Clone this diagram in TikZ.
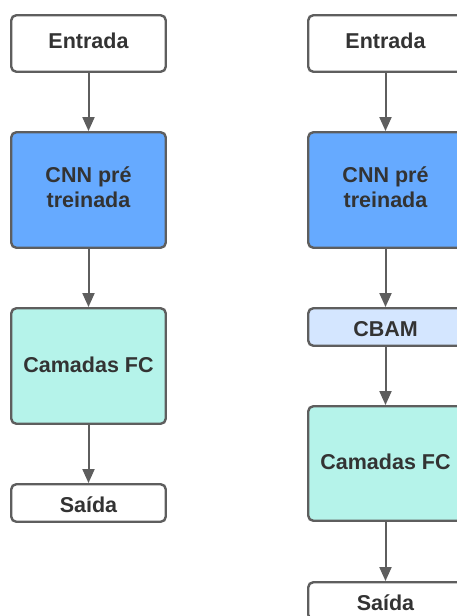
\documentclass[tikz,border=0pt]{standalone}
\usepackage{fontspec}
\setmainfont{Liberation Sans}
\usetikzlibrary{arrows.meta}
\definecolor{edgegray}{HTML}{5E5E5E}
\definecolor{txt}{HTML}{333333}
\definecolor{cnnblue}{HTML}{66AAFF}
\definecolor{fcgreen}{HTML}{B5F3EA}
\definecolor{cbamblue}{HTML}{D4E6FF}
\tikzset{
  box/.style={draw=edgegray, line width=2.4pt, rounded corners=5pt, minimum width=154.5pt,
    inner sep=0pt, align=center, text=txt, text depth=6pt, font=\fontsize{21.5}{25.5}\selectfont\bfseries},
  shortbox/.style={box, minimum height=37.5pt, text height=19.5pt, text depth=0pt},
  fcbox/.style={box, fill=fcgreen, text height=15.5pt, text depth=3pt},
  flow/.style={draw=edgegray, line width=2pt, -{Triangle[length=14pt,width=12pt]}}
}
\begin{document}
\begin{tikzpicture}[x=1pt,y=-1pt]
\useasboundingbox (0,0) rectangle (457,616);
% left column
\node[box, fill=white, minimum height=56.5pt, text height=15.5pt] (le) at (88.5,43.5) {Entrada};
\node[box, fill=cnnblue, minimum height=115.5pt] (lc) at (88.5,190) {CNN pré\\treinada};
\node[fcbox, minimum height=115.5pt] (lf) at (88.5,366) {Camadas FC};
\node[shortbox, fill=white] (ls) at (88.5,503) {Saída};
\draw[flow] (le) -- (lc);
\draw[flow] (lc) -- (lf);
\draw[flow] (lf) -- (ls);
% right column
\node[box, fill=white, minimum height=56.5pt, text height=15.5pt] (re) at (385.5,43.5) {Entrada};
\node[box, fill=cnnblue, minimum height=115.5pt] (rc) at (385.5,190) {CNN pré\\treinada};
\node[shortbox, fill=cbamblue] (rb) at (385.5,327) {CBAM};
\node[fcbox, minimum height=114.5pt] (rf) at (385.5,463.5) {Camadas FC};
\node[shortbox, fill=white] (rs) at (385.5,601) {Saída};
\draw[flow] (re) -- (rc);
\draw[flow] (rc) -- (rb);
\draw[flow] (rb) -- (rf);
\draw[flow] (rf) -- (rs);
\end{tikzpicture}
\end{document}
